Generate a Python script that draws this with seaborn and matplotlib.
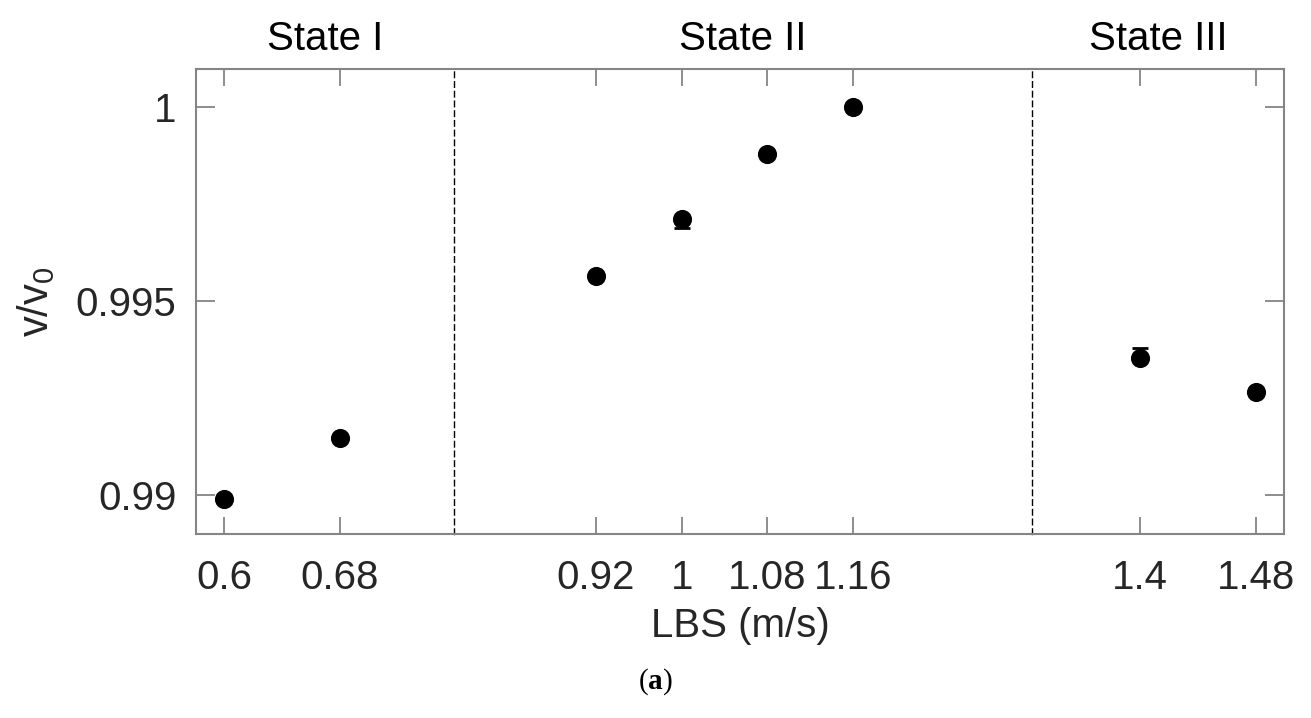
import matplotlib
matplotlib.use("Agg")
import matplotlib.pyplot as plt
import seaborn as sns
import pandas as pd
import numpy as np

# ---- data ----
lbs = [0.6, 0.68, 0.92, 1.0, 1.08, 1.16, 1.4, 1.48]
ratio = [0.9899, 0.99147, 0.99564, 0.99711, 0.99879, 1.0000, 0.99353, 0.99265]
err_low = [0.0, 0.0, 0.0, 0.00024, 0.0, 0.0, 0.0, 0.0]
err_high = [0.0, 0.0, 0.0, 0.0, 0.0, 0.0, 0.00026, 0.0]
state = ["State I", "State I", "State II", "State II", "State II", "State II", "State III", "State III"]
state_names = ["State I", "State II", "State III"]
state_xlim = [(0.5807, 0.7586), (0.7874, 1.327), (1.3255, 1.4993)]
state_xticks = [[0.6, 0.68], [0.92, 1.0, 1.08, 1.16], [1.4, 1.48]]
state_xticklabels = [["0.6", "0.68"], ["0.92", "1", "1.08", "1.16"], ["1.4", "1.48"]]
yticks = [0.99, 0.995, 1.0]
yticklabels = ["0.99", "0.995", "1"]
ylim = (0.98899, 1.00098)

df = pd.DataFrame({"lbs": lbs, "ratio": ratio, "lo": err_low, "hi": err_high, "state": state})

sns.set_theme(style="white")
plt.rcParams["font.family"] = ["Liberation Sans", "DejaVu Sans"]
plt.rcParams["mathtext.fontset"] = "custom"
plt.rcParams["mathtext.rm"] = "Liberation Sans"
plt.rcParams["mathtext.bf"] = "Liberation Serif:bold"

W, H = 1311, 718
fig = plt.figure(figsize=(W / 100, H / 100), dpi=100)

left_px, right_px, top_px, bot_px = 196, 1284, 69, 534
splits = [196, 454, 1032, 1284]
spine_col = "#858585"
txt_col = "#262626"
fs = 29

axes = []
for i, name in enumerate(state_names):
    x0 = splits[i] / W
    w = (splits[i + 1] - splits[i]) / W
    ax = fig.add_axes([x0, 1 - bot_px / H, w, (bot_px - top_px) / H])
    ax.patch.set_visible(False)
    axes.append(ax)
    sub = df[df["state"] == name]
    ax.errorbar(sub["lbs"], sub["ratio"], yerr=[sub["lo"], sub["hi"]], fmt="none",
                ecolor="black", elinewidth=1.5, capsize=6, capthick=2, zorder=2)
    sns.scatterplot(data=sub, x="lbs", y="ratio", ax=ax, color="black", s=190,
                    edgecolor="black", linewidth=0, zorder=3, legend=False)
    ax.set_xlim(*state_xlim[i])
    ax.set_ylim(*ylim)
    ax.set_xticks(state_xticks[i])
    ax.set_xticklabels(state_xticklabels[i])
    ax.set_xlabel("")
    ax.set_ylabel("")
    ax.tick_params(axis="x", direction="in", top=True, bottom=True, length=12, width=1.3,
                   color=spine_col, labelsize=fs, labelcolor=txt_col, pad=18)
    for s in ax.spines.values():
        s.set_color(spine_col)
        s.set_linewidth(1.5)
    ax.set_title(name, fontsize=fs, color="black", pad=14)
    if i == 0:
        ax.set_yticks(yticks)
        ax.set_yticklabels(yticklabels)
        ax.tick_params(axis="y", direction="in", left=True, right=False, length=14, width=1.3,
                       color=spine_col, labelsize=fs, labelcolor=txt_col, pad=14)
    elif i == 2:
        ax.set_yticks(yticks)
        ax.tick_params(axis="y", direction="in", left=False, right=True, length=14, width=1.3,
                       color=spine_col, labelleft=False, labelright=False)
    else:
        ax.set_yticks([])
    if i < 2:
        ax.spines["right"].set_color("black")
        ax.spines["right"].set_linestyle((0, (4, 3)))
        ax.spines["right"].set_linewidth(1.0)
        ax.spines["right"].set_zorder(5)
    if i > 0:
        ax.spines["left"].set_visible(False)

fig.text((left_px + right_px) / 2 / W, 1 - 626 / H, "LBS (m/s)", ha="center", va="center",
         fontsize=fs, color=txt_col)
fig.text(36 / W, 1 - 302 / H, r"v/v$_{\mathregular{0}}$", rotation=90, ha="center", va="center",
         fontsize=fs + 1, color=txt_col)
fig.text(655 / W, 1 - 682 / H, r"($\mathbf{a}$)", ha="center", va="center", fontsize=21,
         family=["Liberation Serif", "DejaVu Serif"], color="black")

fig.savefig("out.png", dpi=100)
